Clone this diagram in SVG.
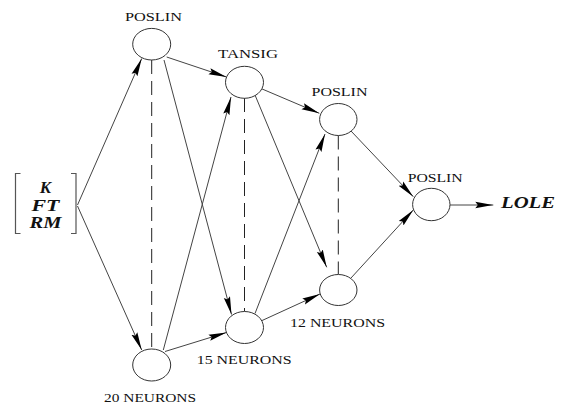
<svg xmlns="http://www.w3.org/2000/svg" width="563" height="405" viewBox="0 0 563 405">
<defs>
<style>
.node{fill:#fff;stroke:#333;stroke-width:1}
.edge{stroke:#444;stroke-width:1;fill:none}
.dash{stroke:#222;stroke-width:1;stroke-dasharray:14 7;fill:none}
.lbl{font-family:"Liberation Serif","Times New Roman",serif;font-size:11.5px;fill:#111}
.mat{font-family:"Liberation Serif","Times New Roman",serif;font-size:17px;font-style:italic;font-weight:bold;fill:#111}
.brk{stroke:#555;stroke-width:1.2;fill:none}
</style>
<marker id="arr" markerUnits="userSpaceOnUse" markerWidth="18" markerHeight="8" refX="18" refY="3.5" orient="auto" viewBox="0 0 18 7">
<path d="M0,0.3 L18,3.5 L0,6.7 L2.5,3.5 Z" fill="#000"/>
</marker>
</defs>
<rect width="563" height="405" fill="#fff"/>

<g id="input">
<path class="brk" d="M20.5,173.5 H15.5 V233.5 H20.5"/>
<path class="brk" d="M71,173.5 H76 V233.5 H71"/>
<text class="mat" x="45.5" y="193.3" text-anchor="middle">K</text>
<text class="mat" x="45.5" y="210.5" text-anchor="middle" textLength="28" lengthAdjust="spacingAndGlyphs">FT</text>
<text class="mat" x="45.5" y="228.3" text-anchor="middle" textLength="32" lengthAdjust="spacingAndGlyphs">RM</text>
</g>

<g id="connectors">
<line class="edge" x1="77.5" y1="205" x2="141.7" y2="58.5" marker-end="url(#arr)"/>
<line class="edge" x1="77.5" y1="206" x2="141.7" y2="350" marker-end="url(#arr)"/>
<line class="edge" x1="166.7" y1="57" x2="226.5" y2="77" marker-end="url(#arr)"/>
<line class="edge" x1="164" y1="60" x2="231.5" y2="314.5" marker-end="url(#arr)"/>
<line class="edge" x1="163.3" y1="350" x2="231" y2="97" marker-end="url(#arr)"/>
<line class="edge" x1="165" y1="351.5" x2="226.5" y2="332.5" marker-end="url(#arr)"/>
<line class="edge" x1="261.7" y1="88.8" x2="319.3" y2="113.3" marker-end="url(#arr)"/>
<line class="edge" x1="255" y1="95" x2="326.7" y2="267.3" marker-end="url(#arr)"/>
<line class="edge" x1="255" y1="313.5" x2="325" y2="134" marker-end="url(#arr)"/>
<line class="edge" x1="261.7" y1="320.7" x2="320" y2="294" marker-end="url(#arr)"/>
<line class="edge" x1="351" y1="131" x2="413.3" y2="196.7" marker-end="url(#arr)"/>
<line class="edge" x1="351" y1="278" x2="413.3" y2="210" marker-end="url(#arr)"/>
<line class="edge" x1="450" y1="205" x2="493.3" y2="205" marker-end="url(#arr)"/>
<line class="dash" x1="151.7" y1="60" x2="151.7" y2="349"/>
<line class="dash" x1="244.5" y1="98" x2="244.5" y2="311.5"/>
<line class="dash" x1="338.3" y1="135.5" x2="338.3" y2="274"/>
</g>

<g id="nodeA">
<ellipse class="node" cx="151.7" cy="44.2" rx="19" ry="15.8"/>
<text class="lbl" x="153.5" y="21" text-anchor="middle" textLength="57" lengthAdjust="spacingAndGlyphs">POSLIN</text>
</g>
<g id="nodeB">
<ellipse class="node" cx="151.7" cy="365" rx="19" ry="16"/>
<text class="lbl" x="150" y="401.7" text-anchor="middle" textLength="92" lengthAdjust="spacingAndGlyphs">20 NEURONS</text>
</g>
<g id="nodeC">
<ellipse class="node" cx="244.5" cy="82.3" rx="19" ry="16"/>
<text class="lbl" x="248" y="58" text-anchor="middle" textLength="60" lengthAdjust="spacingAndGlyphs">TANSIG</text>
</g>
<g id="nodeD">
<ellipse class="node" cx="244.5" cy="327.5" rx="19" ry="16"/>
<text class="lbl" x="244.2" y="364" text-anchor="middle" textLength="95" lengthAdjust="spacingAndGlyphs">15 NEURONS</text>
</g>
<g id="nodeE">
<ellipse class="node" cx="338.3" cy="119.5" rx="18.7" ry="16"/>
<text class="lbl" x="339.5" y="96" text-anchor="middle" textLength="56" lengthAdjust="spacingAndGlyphs">POSLIN</text>
</g>
<g id="nodeF">
<ellipse class="node" cx="338.3" cy="290" rx="18.7" ry="15.5"/>
<text class="lbl" x="337.5" y="326.7" text-anchor="middle" textLength="95" lengthAdjust="spacingAndGlyphs">12 NEURONS</text>
</g>
<g id="nodeG">
<ellipse class="node" cx="431.3" cy="204.5" rx="18.7" ry="16.2"/>
<text class="lbl" x="435.2" y="181.7" text-anchor="middle" textLength="55" lengthAdjust="spacingAndGlyphs">POSLIN</text>
</g>
<g id="output">
<text class="mat" x="501" y="208.3" font-size="15.5" textLength="54" lengthAdjust="spacingAndGlyphs">LOLE</text>
</g>
</svg>
